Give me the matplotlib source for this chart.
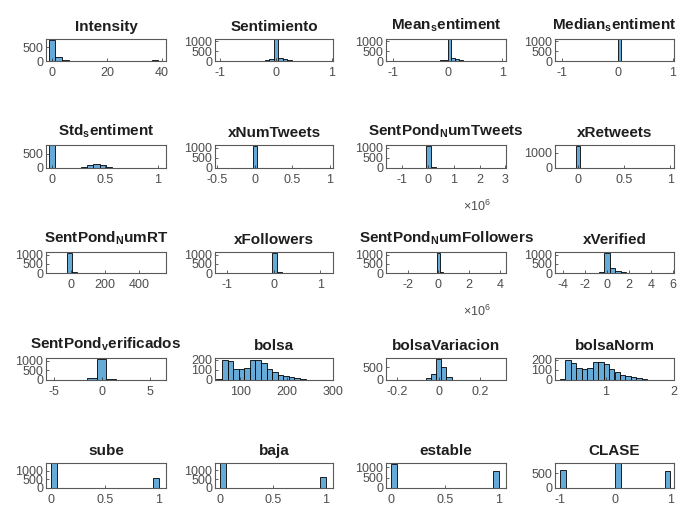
import numpy as np
import matplotlib
matplotlib.use("Agg")
import matplotlib.pyplot as plt

plt.rcParams['font.family'] = ['Liberation Sans', 'DejaVu Sans']
plt.rcParams['mathtext.fontset'] = 'custom'
plt.rcParams['mathtext.rm'] = 'Liberation Sans'
plt.rcParams['mathtext.bf'] = 'Liberation Sans:bold'

# --- histogram data: (first bin edge, bin width) and counts per bin
intensity_bins, intensity_counts = (-1.25, 2.5), [750, 130, 20, 0, 0, 0, 0, 0, 0, 0, 0, 6, 6, 6, 8, 30]
sentimiento_bins, sentimiento_counts = (-0.2, 0.08), [40, 80, 1080, 150, 110, 30]
mean_bins, mean_counts = (-0.14, 0.07), [30, 60, 1080, 160, 120, 40]
median_bins, median_counts = (0.0, 0.07), [1080]
std_bins, std_counts = (-0.03, 0.06), [790, 0, 0, 0, 10, 40, 90, 150, 120, 50, 10]
numtweets_bins, numtweets_counts = (-0.09, 0.06), [15, 1100, 15, 5]
spnumtweets_bins, spnumtweets_counts = (-0.1e6, 0.2e6), [1100, 40]
retweets_bins, retweets_counts = (-0.025, 0.05), [1450, 10]
spnumrt_bins, spnumrt_counts = (-25, 30), [1100, 40, 10]
followers_bins, followers_counts = (-0.125, 0.1), [25, 1100, 30]
spfollowers_bins, spfollowers_counts = (-0.1e6, 0.2e6), [1100, 30, 20, 15, 10]
verified_bins, verified_counts = (-0.75, 0.5), [50, 1100, 270, 110, 50, 10]
spverif_bins, spverif_counts = (-1.5, 1.0), [130, 1080, 60, 10]
bolsa_bins, bolsa_counts = (49, 12), [10, 205, 195, 115, 110, 120, 200, 200, 175, 110, 80, 55, 40, 30, 25, 10]
bvar_bins, bvar_counts = (-0.0875, 0.025), [15, 60, 230, 800, 500, 100, 15]
bnorm_bins, bnorm_counts = (0.33, 0.08), [10, 205, 170, 120, 110, 125, 185, 180, 160, 110, 80, 55, 40, 30, 25, 10]

# sparse (binary / class) variables: bin left edges
sube_left, sube_counts = [0.0, 0.95], [1435, 555]
baja_left, baja_counts = [0.0, 0.95], [1385, 600]
estable_left, estable_counts = [0.0, 0.95], [1155, 830]
clase_left, clase_counts = [-1.0, 0.0, 0.9], [600, 830, 555]
binary_width, clase_width = 0.05, 0.1

titles = ['Intensity', 'Sentimiento', r'Mean$_\mathbf{s}$entiment', r'Median$_\mathbf{s}$entiment',
          r'Std$_\mathbf{s}$entiment', 'xNumTweets', r'SentPond$_\mathbf{N}$umTweets', 'xRetweets',
          r'SentPond$_\mathbf{N}$umRT', 'xFollowers', r'SentPond$_\mathbf{N}$umFollowers', 'xVerified',
          r'SentPond$_\mathbf{v}$erificados', 'bolsa', 'bolsaVariacion', 'bolsaNorm',
          'sube', 'baja', 'estable', 'CLASE']


def dense(bins, counts):
    start, w = bins
    return start + w * np.arange(len(counts)), counts, w


hists = [dense(intensity_bins, intensity_counts), dense(sentimiento_bins, sentimiento_counts),
         dense(mean_bins, mean_counts), dense(median_bins, median_counts),
         dense(std_bins, std_counts), dense(numtweets_bins, numtweets_counts),
         dense(spnumtweets_bins, spnumtweets_counts), dense(retweets_bins, retweets_counts),
         dense(spnumrt_bins, spnumrt_counts), dense(followers_bins, followers_counts),
         dense(spfollowers_bins, spfollowers_counts), dense(verified_bins, verified_counts),
         dense(spverif_bins, spverif_counts), dense(bolsa_bins, bolsa_counts),
         dense(bvar_bins, bvar_counts), dense(bnorm_bins, bnorm_counts),
         (sube_left, sube_counts, binary_width), (baja_left, baja_counts, binary_width),
         (estable_left, estable_counts, binary_width), (clase_left, clase_counts, clase_width)]

# --- axis settings
xlims = [(-2.2, 41.5), (-1.09, 1.02), (-1.13, 1.07), (-1.13, 1.02),
         (-0.057, 1.075), (-0.53, 1.04), (-1.64e6, 3.03e6), (-0.25, 1.04),
         (-147, 559), (-1.25, 1.27), (-3.4e6, 4.4e6), (-4.7, 6.06),
         (-5.8, 6.7), (46, 300), (-0.253, 0.325), (0.26, 2.0),
         (-0.05, 1.07), (-0.05, 1.07), (-0.05, 1.07), (-1.1, 1.07)]
xticks = [[0, 20, 40], [-1, 0, 1], [-1, 0, 1], [-1, 0, 1],
          [0, 0.5, 1], [-0.5, 0, 0.5, 1], [-1e6, 0, 1e6, 2e6, 3e6], [0, 0.5, 1],
          [0, 200, 400], [-1, 0, 1], [-2e6, 0, 2e6, 4e6], [-4, -2, 0, 2, 4, 6],
          [-5, 0, 5], [100, 200, 300], [-0.2, 0, 0.2], [1, 2],
          [0, 0.5, 1], [0, 0.5, 1], [0, 0.5, 1], [-1, 0, 1]]
sci = {6, 10}
ylims = [800, 1100, 1100, 1100, 800, 1150, 1150, 1500, 1150, 1150, 1150, 1150,
         1150, 220, 850, 220, 1450, 1400, 1200, 840]
yt_a, yt_b, yt_c, yt_d = [0, 500, 1000], [0, 500], [0, 1000], [0, 100, 200]
yticks = [yt_b, yt_a, yt_a, yt_a, yt_b, yt_a, yt_a, yt_c, yt_a, yt_a, yt_a, yt_a,
          yt_a, yt_d, yt_b, yt_d, yt_a, yt_a, yt_a, yt_b]

W, H = 685, 509
cols = [(46, 166), (215, 333), (386, 506), (555, 674)]
rows = [(39, 61), (145, 168), (252, 273), (358, 380), (463, 488)]
face = '#66AAD7'
grey = '#4d4d4d'

fig = plt.figure(figsize=(W / 100, H / 100), dpi=100)
for i, (left, counts, w) in enumerate(hists):
    r, c = divmod(i, 4)
    (x0, x1), (y0, y1) = cols[c], rows[r]
    ax = fig.add_axes([x0 / W, 1 - y1 / H, (x1 - x0) / W, (y1 - y0) / H])
    ax.bar(left, counts, width=w, align='edge', color=face, edgecolor='black', linewidth=0.6)
    ax.set_xlim(*xlims[i])
    ax.set_ylim(0, ylims[i])
    ax.set_xticks(xticks[i])
    if i in sci:
        ax.set_xticklabels(['%g' % (t / 1e6) for t in xticks[i]])
        ax.annotate(r'$\times10^{6}$', xy=(0.76, 0), xycoords='axes fraction',
                    xytext=(0, -28), textcoords='offset points', ha='center', va='center',
                    fontsize=9, color=grey)
    else:
        ax.set_xticklabels(['%g' % t for t in xticks[i]])
    ax.set_yticks(yticks[i])
    ax.set_yticklabels(['%g' % t for t in yticks[i]])
    ax.tick_params(direction='in', length=2, width=0.5, labelsize=9, labelcolor=grey,
                   color='#262626', pad=2)
    ax.tick_params(axis='x', pad=4.5)
    for s in ax.spines.values():
        s.set_color('#595959')
        s.set_linewidth(0.8)
    ax.set_title(titles[i], fontsize=11, fontweight='bold', pad=3.5, va='bottom', color='#1e1e1e')

fig.savefig('out.png', dpi=100)
